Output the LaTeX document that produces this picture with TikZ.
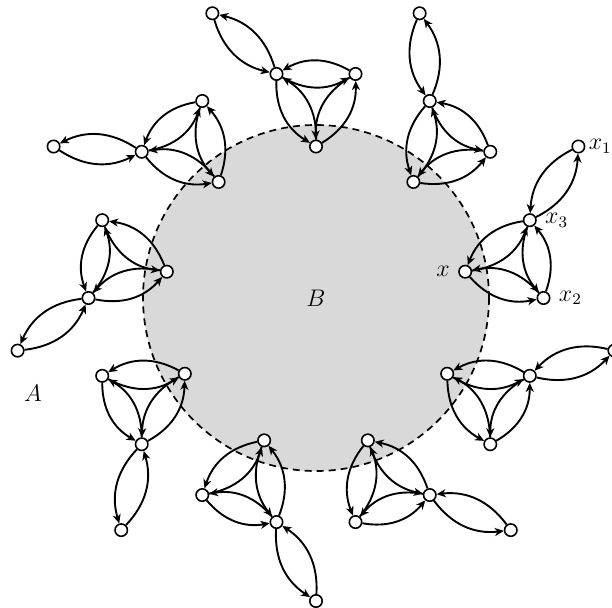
\documentclass[tikz,border=0pt]{standalone}
\usetikzlibrary{arrows.meta,positioning}
\begin{document}
\begin{tikzpicture}[x=0.5pt,y=0.5pt,
  vtx/.style={circle,draw,line width=0.8pt,fill=white,inner sep=0pt,minimum size=6.2pt},
  garc/.style={-{Stealth[length=4.5pt,width=4pt,inset=1.3pt]},line width=0.95pt,bend right=30},
  lab/.style={inner sep=1pt,font=\fontsize{12}{14}\selectfont}]
\useasboundingbox (0,-607) rectangle (612,0);
\coordinate (C) at (316,-298);
\fill[gray!30] (C) circle[radius=86.5pt];
\draw[line width=0.85pt,dash pattern=on 3.5pt off 2.5pt] (C) circle[radius=86.5pt];
\node[lab] (B) at (316,-298) {$B$};
\node[lab] (A) at (33,-393) {$A$};
\foreach \t [count=\i] in {90,50,10,-30,-70,-110,-150,170,130} {
  \node[vtx] (x\i) at ([shift={(\t:75.75pt)}]C) {};
  \node[vtx] (c\i) at ([shift={(\t+10:113.75pt)}]C) {};
  \node[vtx] (b\i) at ([shift={(\t-10:113.75pt)}]C) {};
  \node[vtx] (a\i) at ([shift={(\t+20:151.5pt)}]C) {};
  \draw[garc] (x\i) to (c\i);
  \draw[garc] (c\i) to (x\i);
  \draw[garc] (x\i) to (b\i);
  \draw[garc] (b\i) to (x\i);
  \draw[garc] (b\i) to (c\i);
  \draw[garc] (c\i) to (b\i);
  \draw[garc] (c\i) to (a\i);
  \draw[garc] (a\i) to (c\i);
}
\node[lab,left=3pt of x3] (lx) {$x$};
\node[lab,right=3pt of c3] (lx3) {$x_3$};
\node[lab,right=3pt of b3] (lx2) {$x_2$};
\node[lab,right=0.5pt of a3] (lx1) {$x_1$};
\end{tikzpicture}
\end{document}
